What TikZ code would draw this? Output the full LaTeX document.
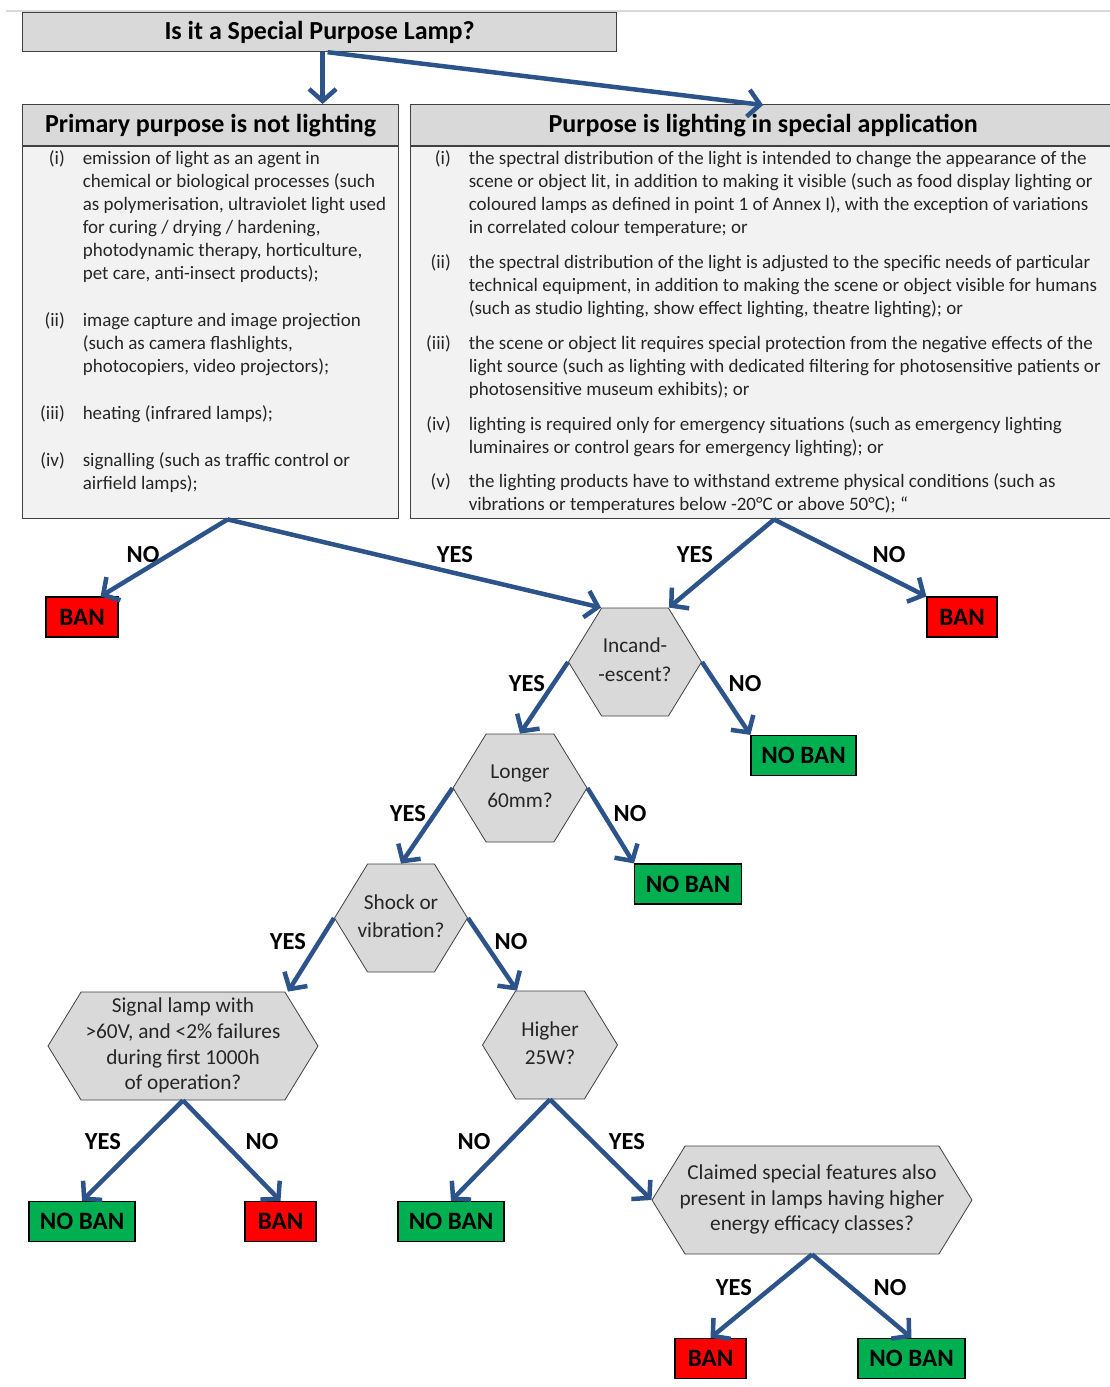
\documentclass[tikz,border=0pt]{standalone}
\usepackage{fontspec}
\setmainfont{Carlito}
\usepackage{xcolor}
\usepackage{tikz}
\usetikzlibrary{shapes, arrows.meta, positioning}

\definecolor{arrowblue}{RGB}{44,84,138}
\definecolor{hexgray}{RGB}{217,217,217}
\definecolor{panelgray}{RGB}{242,242,242}
\definecolor{edgegray}{RGB}{64,64,64}
\definecolor{banred}{RGB}{255,0,0}
\definecolor{okgreen}{RGB}{0,176,80}

\newcommand{\listfont}{\fontsize{19}{23}\selectfont}
\newcommand{\hexfont}{\fontsize{21.3}{25.8}\selectfont}
\newcommand{\headfont}{\fontsize{26}{30}\selectfont\bfseries}
\newcommand{\labfont}{\fontsize{24.5}{28}\selectfont\bfseries}
\newcommand{\boxfont}{\fontsize{25}{28}\selectfont\bfseries}
% question text may run into the slanted sides
\newcommand{\hexlines}[1]{\makebox[0pt]{\raisebox{-2.5pt}{\begin{tabular}{@{}c@{}}#1\end{tabular}}}}

\begin{document}
\begin{tikzpicture}[x=1pt, y=-1pt]
        \useasboundingbox (0,0) rectangle (1110,1387);
        \draw[black!15, line width=1.5pt] (6,11) -- (1110,11);
        % headers
        \begin{scope}[every node/.style={draw=edgegray, line width=1.2pt, fill=hexgray, font=\headfont, inner sep=0pt, anchor=north west}]
          \node[minimum width=594, minimum height=39] (lamp) at (22,12) {Is it a Special Purpose Lamp?};
          \node[minimum width=376, minimum height=41] (nothead) at (22,104) {Primary purpose is not lighting};
          \node[minimum width=705, minimum height=41] (spechead) at (410,104) {Purpose is lighting in special application};
        \end{scope}
        \begin{scope}[every node/.style={draw=edgegray, line width=1.2pt, fill=panelgray, inner sep=0pt, anchor=north}]
          \node[minimum width=376, minimum height=372] (notbody) at (nothead.south) {};
          \node[minimum width=705, minimum height=372] (specbody) at (spechead.south) {};
        \end{scope}
        \begin{scope}[every node/.style={font=\listfont, text=black!85, inner sep=0pt, anchor=north west}]
          \node (notlist) at (40,148) {%
            \begin{tabular}{@{}r@{\hspace{18pt}}l@{}}
              (i) & emission of light as an agent in\\
                  & chemical or biological processes (such\\
                  & as polymerisation, ultraviolet light used\\
                  & for curing / drying / hardening,\\
                  & photodynamic therapy, horticulture,\\
                  & pet care, anti-insect products);\\[24pt]
              (ii) & image capture and image projection\\
                   & (such as camera flashlights,\\
                   & photocopiers, video projectors);\\[24pt]
              (iii) & heating (infrared lamps);\\[24pt]
              (iv) & signalling (such as traffic control or\\
                   & airfield lamps);
            \end{tabular}};
          \node (speclist) at (426,148) {%
            \begin{tabular}{@{}r@{\hspace{18pt}}l@{}}
              (i) & the spectral distribution of the light is intended to change the appearance of the\\
                  & scene or object lit, in addition to making it visible (such as food display lighting or\\
                  & coloured lamps as defined in point 1 of Annex I), with the exception of variations\\
                  & in correlated colour temperature; or\\[12pt]
              (ii) & the spectral distribution of the light is adjusted to the specific needs of particular\\
                   & technical equipment, in addition to making the scene or object visible for humans\\
                   & (such as studio lighting, show effect lighting, theatre lighting); or\\[12pt]
              (iii) & the scene or object lit requires special protection from the negative effects of the\\
                    & light source (such as lighting with dedicated filtering for photosensitive patients or\\
                    & photosensitive museum exhibits); or\\[12pt]
              (iv) & lighting is required only for emergency situations (such as emergency lighting\\
                   & luminaires or control gears for emergency lighting); or\\[11pt]
              (v) & the lighting products have to withstand extreme physical conditions (such as\\
                  & vibrations or temperatures below -20°C or above 50°C); “
            \end{tabular}};
        \end{scope}
        % questions
        \begin{scope}[every node/.style={signal, signal to=west and east, signal pointer angle=117, draw=edgegray, fill=hexgray, line width=0.8pt, font=\hexfont, text=black!85, inner sep=0pt, minimum height=108}]
          \node[minimum width=133] (incand) at (635,662) {\hexlines{Incand-\\[3pt]-escent?}};
          \node[minimum width=134] (longer) at (520,788) {\hexlines{Longer\\[3pt]60mm?}};
          \node[minimum width=133] (shock) at (401,918) {\hexlines{Shock or\\[2pt]vibration?}};
          \node[minimum width=270] (sigq) at (183,1046) {\hexlines{Signal lamp with\\>60V, and <2\% failures\\during first 1000h\\of operation?}};
          \node[minimum width=135] (higher) at (550,1045) {\hexlines{Higher\\[2pt]25W?}};
          \node[minimum width=320] (claimed) at (812,1200) {\hexlines{Claimed special features also\\present in lamps having higher\\energy efficacy classes?}};
        \end{scope}
        % outcomes
        \begin{scope}[every node/.style={draw=black, line width=1.2pt, font=\boxfont, inner sep=0pt, minimum height=40}]
          \node[fill=banred, minimum width=72] (ban1) at (82,617) {BAN};
          \node[fill=banred, minimum width=70] (ban2) at (962,617) {BAN};
          \node[fill=okgreen, minimum width=105] (nb1) at (803.5,755.5) {NO BAN};
          \node[fill=okgreen, minimum width=107] (nb2) at (688,884) {NO BAN};
          \node[fill=okgreen, minimum width=106] (nb3) at (82,1221.5) {NO BAN};
          \node[fill=banred, minimum width=71] (ban3) at (280.5,1221.5) {BAN};
          \node[fill=okgreen, minimum width=106] (nb4) at (451,1221.5) {NO BAN};
          \node[fill=banred, minimum width=71] (ban4) at (710.5,1358.5) {BAN};
          \node[fill=okgreen, minimum width=107] (nb5) at (911.5,1358.5) {NO BAN};
        \end{scope}
        % answers
        \begin{scope}[every node/.style={font=\labfont, inner sep=0pt}]
          \node (a1) at (143,555) {NO};
          \node (a2) at (455,555) {YES};
          \node (a3) at (695,555) {YES};
          \node (a4) at (889,555) {NO};
          \node (a5) at (527,684) {YES};
          \node (a6) at (745,684) {NO};
          \node (a7) at (408,814) {YES};
          \node (a8) at (630,814) {NO};
          \node (a9) at (288,942) {YES};
          \node (a10) at (511,942) {NO};
          \node (a11) at (103,1142) {YES};
          \node (a12) at (262,1142) {NO};
          \node (a13) at (474,1142) {NO};
          \node (a14) at (627,1142) {YES};
          \node (a15) at (734,1288) {YES};
          \node (a16) at (890,1288) {NO};
        \end{scope}
        \begin{scope}[every edge/.style={draw=arrowblue, line width=4.5pt, -{Straight Barb[length=12pt,width=27pt]}}]
          \path ([xshift=3pt]lamp.south) edge ([xshift=3pt]lamp.south |- nothead.north);
          \path ([xshift=8pt]lamp.south) edge ([yshift=-1pt]spechead.north);
          \path ([xshift=17pt]notbody.south) edge ([xshift=-18pt]ban1.north east);
          \path ([xshift=17pt]notbody.south) edge ([xshift=-34pt]incand.north);
          \path ([xshift=11pt]specbody.south) edge ([xshift=34pt]incand.north);
          \path ([xshift=11pt]specbody.south) edge (ban2.north west);
          \path (incand.west) edge (longer.north);
          \path (incand.east) edge (nb1.north west);
          \path (longer.west) edge (shock.north);
          \path (longer.east) edge (nb2.north west);
          \path (shock.west) edge ([xshift=105pt]sigq.north);
          \path (shock.east) edge ([xshift=-33pt]higher.north);
          \path (sigq.south) edge (nb3.north);
          \path (sigq.south) edge (ban3.north);
          \path (higher.south) edge (nb4.north);
          \path (higher.south) edge (claimed.west);
          \path (claimed.south) edge (ban4.north);
          \path (claimed.south) edge (nb5.north);
        \end{scope}
      \end{tikzpicture}
\end{document}
